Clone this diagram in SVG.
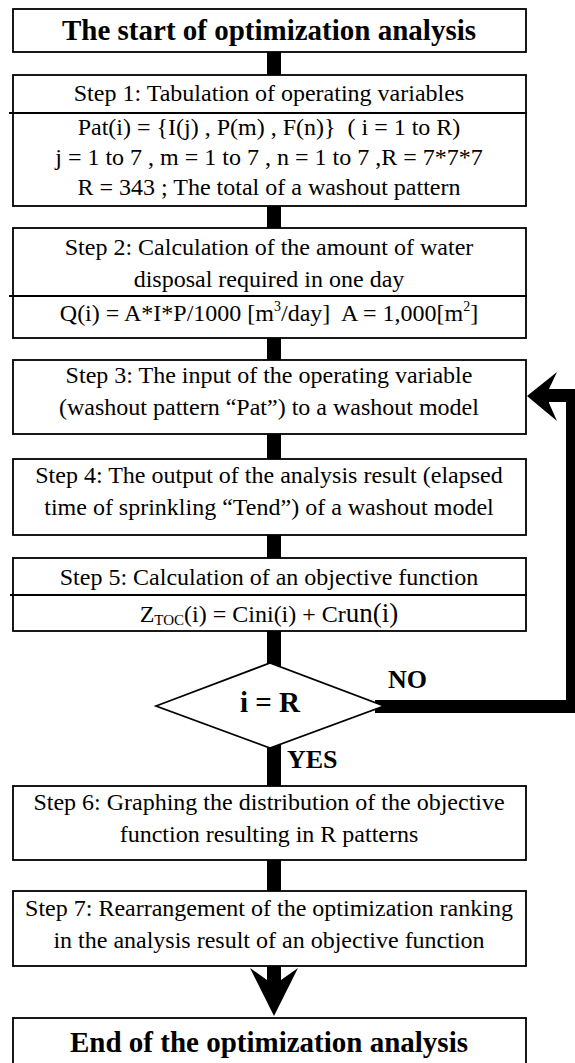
<svg xmlns="http://www.w3.org/2000/svg" width="575" height="1063" viewBox="0 0 575 1063">
<style>
.box{fill:#fff;stroke:#000;stroke-width:1.8}
.div{stroke:#000;stroke-width:1.8}
.t{font-family:"Liberation Serif","Times New Roman",serif;font-size:24px;fill:#000;text-anchor:middle}
.b{font-family:"Liberation Serif","Times New Roman",serif;font-size:29px;font-weight:bold;fill:#000;text-anchor:middle}
.lbl{font-family:"Liberation Serif","Times New Roman",serif;font-size:26px;font-weight:bold;fill:#000}
.c{fill:#000}
</style>
<rect width="575" height="1063" fill="#fff"/>
<g id="connectors">
<rect class="c" x="267" y="52" width="14" height="23"/>
<rect class="c" x="267" y="206" width="14" height="22"/>
<rect class="c" x="267" y="338" width="14" height="22"/>
<rect class="c" x="267" y="434" width="14" height="25"/>
<rect class="c" x="267" y="535" width="14" height="23"/>
<rect class="c" x="267" y="631" width="14" height="40"/>
<rect class="c" x="267" y="740" width="14" height="46"/>
<rect class="c" x="267" y="860" width="14" height="31"/>
<polygon class="c" points="267,966 281,966 281,980 298,968 274,1016 250,968 267,980"/>
<rect class="c" x="375" y="700" width="200" height="13"/>
<rect class="c" x="566" y="389" width="10" height="324"/>
<rect class="c" x="549" y="389" width="27" height="13"/>
<polygon class="c" points="527,396 557,372 549,389 549,403 557,421"/>
<text class="lbl" x="388" y="688">NO</text>
<text class="lbl" x="287" y="768">YES</text>
</g>
<g id="start">
<rect class="box" x="13" y="9" width="513" height="43"/>
<text class="b" x="269" y="40">The start of optimization analysis</text>
</g>
<g id="step1">
<rect class="box" x="13" y="75" width="513" height="131"/>
<line class="div" x1="9" y1="113" x2="527" y2="113"/>
<text class="t" x="269" y="101">Step 1: Tabulation of operating variables</text>
<text class="t" x="269" y="135" xml:space="preserve">Pat(i) = {I(j) , P(m) , F(n)}  ( i = 1 to R)</text>
<text class="t" x="269" y="165">j = 1 to 7 , m = 1 to 7 , n = 1 to 7 ,R = 7*7*7</text>
<text class="t" x="269" y="195">R = 343 ; The total of a washout pattern</text>
</g>
<g id="step2">
<rect class="box" x="13" y="228" width="513" height="110"/>
<line class="div" x1="9" y1="296" x2="527" y2="296"/>
<text class="t" x="269" y="255">Step 2: Calculation of the amount of water</text>
<text class="t" x="269" y="287">disposal required in one day</text>
<text class="t" x="269" y="321" xml:space="preserve">Q(i) = A*I*P/1000 [m<tspan font-size="14" dy="-10">3</tspan><tspan dy="10">/day]  A = 1,000[m</tspan><tspan font-size="14" dy="-10">2</tspan><tspan dy="10">]</tspan></text>
</g>
<g id="step3">
<rect class="box" x="13" y="360" width="513" height="74"/>
<text class="t" x="269" y="383">Step 3: The input of the operating variable</text>
<text class="t" x="269" y="415">(washout pattern “Pat”) to a washout model</text>
</g>
<g id="step4">
<rect class="box" x="13" y="459" width="513" height="76"/>
<text class="t" x="269" y="483">Step 4: The output of the analysis result (elapsed</text>
<text class="t" x="269" y="515">time of sprinkling “Tend”) of a washout model</text>
</g>
<g id="step5">
<rect class="box" x="13" y="558" width="513" height="73"/>
<line class="div" x1="10" y1="595" x2="527" y2="595"/>
<text class="t" x="269" y="585">Step 5: Calculation of an objective function</text>
<text class="t" x="269" y="622">Z<tspan font-size="15" dy="3">TOC</tspan><tspan dy="-3">(i) = Cini(i) + Cr</tspan><tspan font-size="27">un(i)</tspan></text>
</g>
<g id="decision">
<polygon class="box" points="156,706 270,663 384,706 270,748"/>
<text class="b" x="270" y="712">i = R</text>
</g>
<g id="step6">
<rect class="box" x="13" y="786" width="513" height="74"/>
<text class="t" x="269" y="810">Step 6: Graphing the distribution of the objective</text>
<text class="t" x="269" y="842">function resulting in R patterns</text>
</g>
<g id="step7">
<rect class="box" x="13" y="891" width="513" height="75"/>
<text class="t" x="269" y="916">Step 7: Rearrangement of the optimization ranking</text>
<text class="t" x="269" y="948">in the analysis result of an objective function</text>
</g>
<g id="end">
<rect class="box" x="13" y="1018" width="513" height="50"/>
<text class="b" x="269" y="1052">End of the optimization analysis</text>
</g>
</svg>
